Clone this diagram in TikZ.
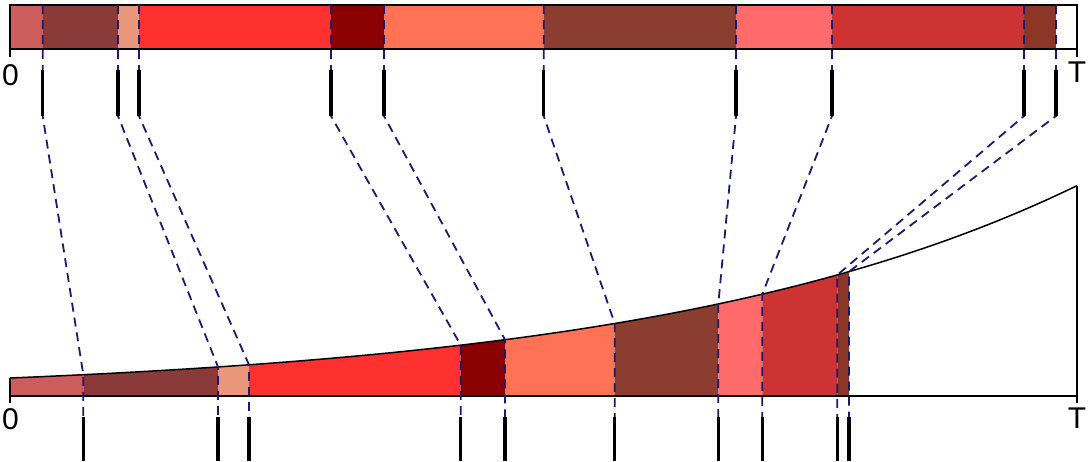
\documentclass[tikz,border=0pt]{standalone}
\usepackage{fontspec}
\setmainfont{Liberation Sans}

\definecolor{seg0}{HTML}{CD5C5C}
\definecolor{seg1}{HTML}{8B3A3A}
\definecolor{seg2}{HTML}{E9967A}
\definecolor{seg3}{HTML}{FF3030}
\definecolor{seg4}{HTML}{8B0000}
\definecolor{seg5}{HTML}{FF7256}
\definecolor{seg6}{HTML}{8B3E2F}
\definecolor{seg7}{HTML}{FF6A6A}
\definecolor{seg8}{HTML}{CD3333}
\definecolor{seg9}{HTML}{8B3626}
\definecolor{linkblue}{HTML}{1A1A6E}

\begin{document}
\begin{tikzpicture}[x=0.5pt,y=-0.5pt,
  declare function={curv(\x)=396-18*exp(0.002306*(\x-10));},
  link/.style={draw=linkblue, line width=0.9pt, dash pattern=on 4.5pt off 3pt},
  tick/.style={line width=1.7pt},
  axis/.style={line width=0.6pt},
  lbl/.style={font=\fontsize{15}{15}\selectfont, inner sep=0pt, anchor=north}]
  \useasboundingbox (0,0) rectangle (1090,461);

  \foreach \ta/\tb/\ba/\bb/\col in {
    10/42.7/10/83.3/seg0, 42.7/118/83.3/218/seg1, 118/139/218/249/seg2,
    139/331/249/460.7/seg3, 331/384/460.7/505/seg4, 384/543.7/505/614.7/seg5,
    543.7/736/614.7/718.3/seg6, 736/832/718.3/762.3/seg7,
    832/1024/762.3/837.3/seg8, 1024/1056/837.3/849/seg9}{
    \fill[\col] (\ta,5) rectangle (\tb,49);
    \fill[\col] (\ba,396) -- plot[domain=\ba:\bb,samples=20] (\x,{curv(\x)}) -- (\bb,396) -- cycle;
  }

  \draw[axis] (10,57) -- (10,5) -- (1077,5) -- (1077,57);
  \draw[axis] (10,49) -- (1077,49);
  \draw[axis] (10,403) -- (10,{curv(10)});
  \draw[axis] (10,396) -- (1077,396);
  \draw[axis] (1077,403) -- (1077,{curv(1077)});
  \draw[line width=0.75pt] plot[domain=10:1077,samples=120] (\x,{curv(\x)});

  \node[lbl] (zerotop) at (10.5,64) {0};
  \node[lbl] (endtop) at (1077,61) {T};
  \node[lbl] (zerobot) at (10.5,408) {0};
  \node[lbl] (endbot) at (1077,407) {T};

  \foreach \t/\b [count=\i] in {42.7/83.3, 118/218, 139/249, 331/460.7, 384/505,
    543.7/614.7, 736/718.3, 832/762.3, 1024/837.3, 1056/849}{
    \coordinate (top\i) at (\t,5);
    \coordinate (bend\i) at (\t,116);
    \coordinate (bot\i) at (\b,{curv(\b)});
    \coordinate (foot\i) at (\b,417);
    \draw[link] (top\i) -- (bend\i) -- (bot\i) -- (foot\i);
    \draw[tick] (\t,70) -- (bend\i);
    \draw[tick] (foot\i) -- (\b,461);
  }
\end{tikzpicture}
\end{document}
